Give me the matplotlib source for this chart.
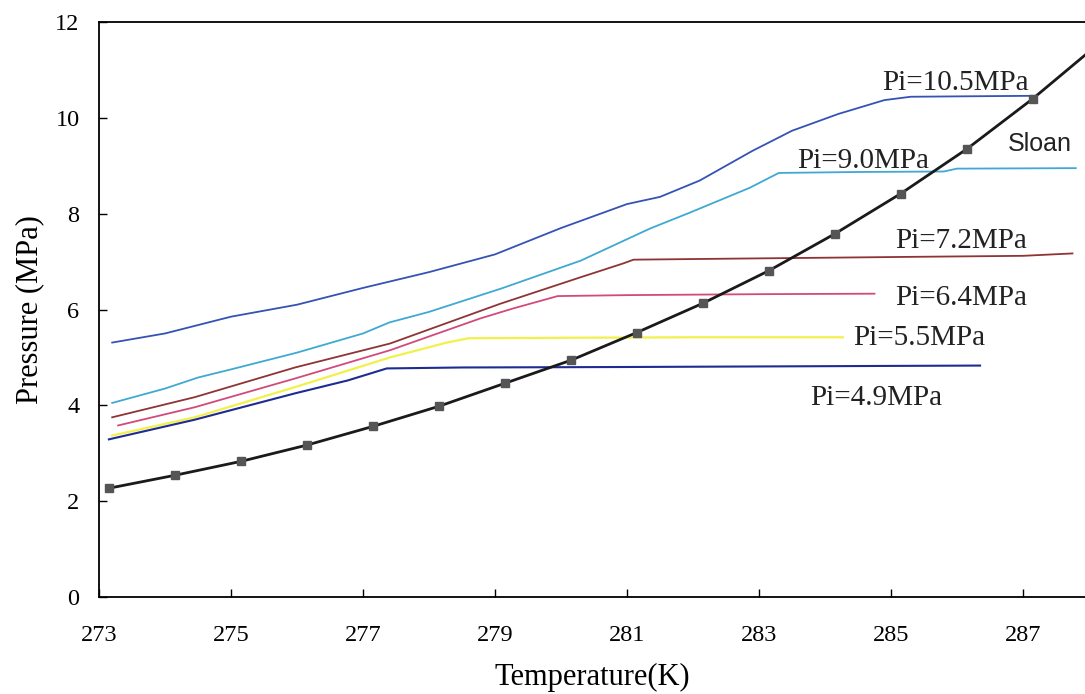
import matplotlib
matplotlib.use("Agg")
import matplotlib.pyplot as plt

# Sloan equilibrium curve
sloan_T = [273.15, 274.15, 275.15, 276.15, 277.15, 278.15, 279.15, 280.15, 281.15,
           282.15, 283.15, 284.15, 285.15, 286.15, 287.15, 288.15]
sloan_P = [2.27, 2.54, 2.83, 3.17, 3.56, 3.98, 4.46, 4.94, 5.52,
           6.13, 6.81, 7.58, 8.42, 9.35, 10.40, 11.55]

# experimental runs
t_105 = [273.2, 274.0, 275.0, 276.0, 277.0, 278.0, 279.0, 280.0, 280.5, 281.0, 281.5,
         282.1, 282.9, 283.5, 284.2, 284.9, 285.3, 286.2, 287.2]
p_105 = [5.31, 5.5, 5.85, 6.1, 6.45, 6.78, 7.15, 7.7, 7.95, 8.2, 8.35,
         8.69, 9.31, 9.73, 10.08, 10.37, 10.44, 10.45, 10.46]

t_90 = [273.2, 274.0, 274.5, 275.0, 276.0, 277.0, 277.4, 278.0, 279.1, 280.3, 281.35,
        281.95, 282.86, 283.3, 284.5, 285.8, 286.0, 287.8]
p_90 = [4.05, 4.35, 4.58, 4.75, 5.1, 5.5, 5.73, 5.95, 6.44, 7.02, 7.69,
        8.02, 8.54, 8.85, 8.87, 8.88, 8.94, 8.95]

t_72 = [273.2, 274.45, 275.97, 277.41, 279.08, 280.29, 280.94, 281.1, 282.5, 285.4, 287.0, 287.75]
p_72 = [3.75, 4.17, 4.79, 5.29, 6.12, 6.67, 6.96, 7.04, 7.06, 7.1, 7.12, 7.17]

t_64 = [273.29, 274.45, 275.97, 277.41, 278.77, 279.27, 279.95, 281.0, 283.0, 284.75]
p_64 = [3.58, 3.96, 4.56, 5.15, 5.81, 6.02, 6.28, 6.3, 6.32, 6.33]

t_55 = [273.2, 274.45, 275.97, 277.41, 278.27, 278.6, 280.0, 282.0, 284.27]
p_55 = [3.37, 3.75, 4.38, 5.0, 5.31, 5.4, 5.41, 5.42, 5.42]

t_49 = [273.15, 274.45, 275.97, 276.77, 277.36, 278.5, 281.0, 284.5, 286.35]
p_49 = [3.29, 3.7, 4.25, 4.52, 4.77, 4.79, 4.8, 4.82, 4.83]

serif = ["Liberation Serif", "DejaVu Serif"]

fig = plt.figure(figsize=(10.85, 6.94), dpi=100)
ax = fig.add_axes([99 / 1085, 97 / 694, 1 - 99 / 1085, 575 / 694])

ax.plot(t_105, p_105, color="#3552b5", lw=1.3)
ax.plot(t_90, p_90, color="#3fa9d2", lw=1.3)
ax.plot(t_72, p_72, color="#8e3434", lw=1.3)
ax.plot(t_64, p_64, color="#d24b78", lw=1.3)
ax.plot(t_55, p_55, color="#f2f04a", lw=1.6)
ax.plot(t_49, p_49, color="#1e2c92", lw=1.5)
ax.plot(sloan_T, sloan_P, color="#1a1a1a", lw=2, marker="s", markersize=6,
        markerfacecolor="#555555", markeredgecolor="#555555", markevery=list(range(15)))

ax.set_xlim(273, 287.94)
ax.set_ylim(0, 12)
ax.set_xticks([273, 275, 277, 279, 281, 283, 285, 287])
ax.set_yticks([0, 2, 4, 6, 8, 10, 12])
ax.tick_params(direction="in", length=6, width=1)
ax.tick_params(axis="x", pad=20)
ax.tick_params(axis="y", pad=14)
for lab in ax.get_xticklabels() + ax.get_yticklabels():
    lab.set_family(serif)
    lab.set_fontsize(17.5)
ax.spines["right"].set_visible(False)
for s in ["left", "bottom", "top"]:
    ax.spines[s].set_linewidth(1.3)

ax.set_xlabel("Temperature(K)", family=serif, fontsize=22, labelpad=12)
ax.set_ylabel("Pressure (MPa)", family=serif, fontsize=22, labelpad=8)

lab_kw = dict(family=serif, fontsize=21, color="#222222", va="center")
ax.text(284.86, 10.73, "Pi=10.5MPa", **lab_kw)
ax.text(283.58, 9.1, "Pi=9.0MPa", **lab_kw)
ax.text(285.06, 7.44, "Pi=7.2MPa", **lab_kw)
ax.text(285.06, 6.23, "Pi=6.4MPa", **lab_kw)
ax.text(284.42, 5.4, "Pi=5.5MPa", **lab_kw)
ax.text(283.77, 4.15, "Pi=4.9MPa", **lab_kw)
ax.text(286.77, 9.46, "Sloan", family=["Liberation Sans", "DejaVu Sans"], fontsize=18,
        color="#222222", va="center")

fig.savefig("out.png", dpi=100)
